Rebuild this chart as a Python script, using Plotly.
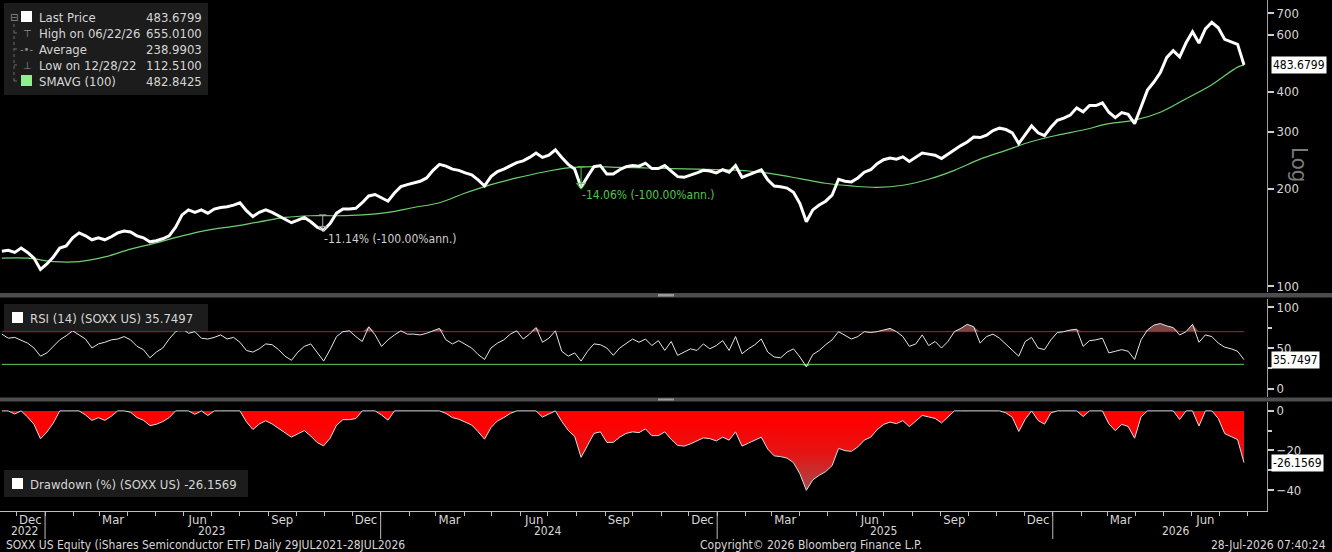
import numpy as np
import pandas as pd
import plotly.graph_objects as go

# weekly closes (last point is the 28-Jul-2026 print)
dates = pd.date_range(end="2026-07-28", periods=194, freq="7D")

price = [
    128, 129, 127, 131, 127, 122, 112.5, 117, 123, 131,
    133, 141, 146, 143, 139, 141, 139, 142, 146, 148,
    147, 143, 141, 137, 138, 140, 143, 152, 166, 172,
    169, 172, 168, 173, 175, 176, 178, 181, 171, 164,
    169, 172, 169, 165, 161, 157, 160, 163, 158, 152,
    149, 156, 168, 173, 173, 174, 181, 190, 192, 188,
    183, 194, 203, 206, 209, 211, 216, 228, 238, 235,
    230, 228, 224, 221, 213, 204, 218, 226, 230, 235,
    241, 244, 250, 258, 250, 254, 264, 250, 238, 230,
    202, 218, 234, 236, 222, 222, 229, 234, 236, 235,
    240, 231, 231, 236, 226, 218, 217, 220, 224, 228,
    227, 224, 229, 225, 236, 217, 221, 225, 229, 213,
    204, 203, 201, 195, 180, 158, 172, 178, 183, 191,
    214, 211, 210, 216, 225, 229, 239, 246, 249, 247,
    251, 243, 250, 258, 256, 254, 248, 256, 264, 272,
    279, 289, 288, 293, 303, 308, 305, 298, 276, 295,
    313, 298, 292, 310, 326, 331, 338, 356, 346, 362,
    362, 369, 345, 332, 344, 340, 318, 358, 404, 428,
    458, 510, 535, 512, 566, 612, 565, 625, 655.01, 630,
    580, 570, 560, 483.6799,
]

rsi_14 = [
    67, 62, 63, 59, 56, 50, 40, 44, 52, 60,
    65, 71, 66, 61, 50, 55, 57, 60, 61, 64,
    60, 52, 48, 38, 45, 50, 61, 70, 74, 68,
    70, 62, 61, 63, 66, 61, 63, 57, 47, 45,
    49, 55, 54, 48, 40, 35, 45, 52, 55, 45,
    34, 48, 64, 70, 71, 64, 58, 76, 66, 52,
    60, 66, 71, 67, 67, 66, 68, 71, 74, 60,
    55, 59, 55, 50, 42, 36, 50, 56, 60, 67,
    71, 61, 67, 75, 57, 62, 71, 46, 40, 44,
    34, 46, 55, 54, 50, 41, 50, 55, 61, 57,
    61, 53, 59, 47, 58, 41, 45, 49, 47, 55,
    49, 53, 59, 47, 64, 43, 49, 54, 61, 45,
    39, 38, 45, 49, 39, 27, 42, 47, 54, 60,
    70, 65, 61, 64, 70, 69, 70, 72, 74, 70,
    64, 52, 55, 66, 53, 58, 50, 58, 70, 74,
    79, 76, 56, 64, 67, 62, 55, 48, 40, 58,
    63, 50, 48, 60, 69, 70, 72, 73, 52, 59,
    60, 62, 44, 46, 48, 46, 36, 60, 72, 78,
    80, 77, 75, 66, 70, 79, 57, 66, 64, 56,
    51, 49, 46, 35.7497,
]

# 100-day SMA, read every 4 weeks
sma_dates = list(dates[::4]) + [dates[-1]]
sma_100 = [
    122, 122, 119, 119, 123, 130, 136, 143, 149, 153,
    158, 163, 165, 165, 166, 169, 175, 181, 194, 206,
    216, 225, 232, 234, 233, 232, 231, 230, 229, 227,
    222, 215, 208, 204, 202, 205, 214, 228, 247, 263,
    280, 293, 304, 318, 326, 345, 380, 420, 476, 482.8425,
]

# month labels sit mid-month (Dec/Mar/Jun/Sep), years centred under their span
month_ticks = pd.date_range("2022-12-01", "2026-06-01", freq="3MS") + pd.Timedelta(days=15)
month_names = [d.strftime("%b") for d in month_ticks]
year_labels = ["2022", "2023", "2024", "2025", "2026"]
year_pos = ["2022-12-10", "2023-07-01", "2024-07-01", "2025-07-01", "2026-05-15"]

# derived series
p = np.array(price)
drawdown = (p / np.maximum.accumulate(p) - 1) * 100
r = np.array(rsi_14)

FONT = "Liberation Sans Narrow, DejaVu Sans Condensed, Arial Narrow, sans-serif"
TXT = "#d6d6d6"
W, H = 1332, 552
PLOT_R, PLOT_B = 1267, 511


def px(x):
    return x / PLOT_R


def py(y):
    return (PLOT_B - y) / PLOT_B


fig = go.Figure()

# price panel
fig.add_trace(go.Scatter(x=sma_dates, y=sma_100, mode="lines", line=dict(color="#6fcf6f", width=1.2, shape="spline"),
                         yaxis="y"))
fig.add_trace(go.Scatter(x=dates, y=price, mode="lines", line=dict(color="white", width=3), yaxis="y"))

# drawdown markers on price
fig.add_trace(go.Scatter(x=["2023-10-26", "2023-11-03", None, "2023-10-30", "2023-10-30"],
                         y=[166, 166, None, 166, 150], mode="lines",
                         line=dict(color="#a8a8a8", width=1), yaxis="y"))
fig.add_trace(go.Scatter(x=["2023-10-30"], y=[151], mode="markers",
                         marker=dict(symbol="triangle-down-open", size=7, color="#a8a8a8"), yaxis="y"))
fig.add_trace(go.Scatter(x=["2024-08-02", "2024-08-10", None, "2024-08-06", "2024-08-06"],
                         y=[234, 234, None, 234, 203], mode="lines",
                         line=dict(color="#4cc94c", width=1), yaxis="y"))
fig.add_trace(go.Scatter(x=["2024-08-06"], y=[205], mode="markers",
                         marker=dict(symbol="triangle-down-open", size=8, color="#4cc94c"), yaxis="y"))

# RSI panel
fig.add_trace(go.Scatter(x=dates, y=[70] * len(dates), mode="lines", line=dict(color="#c41a1a", width=1), yaxis="y2"))
fig.add_trace(go.Scatter(x=dates, y=np.maximum(r, 70), mode="lines", line=dict(width=0),
                         fill="tonexty", fillcolor="#7d4646", yaxis="y2"))
fig.add_trace(go.Scatter(x=dates, y=[30] * len(dates), mode="lines", line=dict(color="#5ccf5c", width=1), yaxis="y2"))
fig.add_trace(go.Scatter(x=dates, y=np.minimum(r, 30), mode="lines", line=dict(width=0),
                         fill="tonexty", fillcolor="#3f7a3f", yaxis="y2"))
fig.add_trace(go.Scatter(x=dates, y=rsi_14, mode="lines", line=dict(color="#e6e6e6", width=1), yaxis="y2"))

# drawdown panel
fig.add_trace(go.Scatter(x=dates, y=drawdown, mode="lines", line=dict(color="#dcdcdc", width=1),
                         fill="tozeroy",
                         fillgradient=dict(type="vertical", start=-42, stop=-5,
                                           colorscale=[[0, "#a05050"], [0.55, "#e41414"], [1, "#ff0000"]]),
                         yaxis="y3"))

axis_common = dict(side="right", anchor="x", showgrid=False, zeroline=False, showline=True,
                   linecolor="#a0a0a0", linewidth=1, ticks="outside", ticklen=6, tickwidth=2,
                   tickcolor="#cfcfcf", tickfont=dict(family=FONT, size=13, color=TXT))

fig.update_layout(
    width=W, height=H,
    margin=dict(l=0, r=W - PLOT_R, t=0, b=H - PLOT_B),
    paper_bgcolor="black", plot_bgcolor="black",
    showlegend=False,
    xaxis=dict(type="date", range=["2022-11-13", "2026-08-22"], anchor="y3", showgrid=False,
               zeroline=False, showline=True, linecolor="#bdbdbd", linewidth=1,
               tickvals=month_ticks, ticktext=month_names, ticks="", ticklen=0, ticklabelstandoff=-4,
               tickfont=dict(family=FONT, size=13, color=TXT),
               minor=dict(ticks="outside", ticklen=4, tickcolor="#bdbdbd", dtick="M1", tick0="2022-12-01")),
    yaxis=dict(domain=[py(292), 1], type="log", range=[np.log10(95.8), np.log10(768)],
               tickvals=[100, 200, 300, 400, 600, 700], ticktext=["100", "200", "300", "400", "600", "700"],
               **axis_common),
    yaxis2=dict(domain=[py(397), py(299)], range=[-10, 110], tickvals=[0, 50, 100],
                minor=dict(tickvals=[25, 75], ticks="outside", ticklen=4, tickcolor="#cfcfcf"),
                **axis_common),
    yaxis3=dict(domain=[0, py(402)], range=[-50.6, 4.5], tickvals=[0, -20, -40],
                minor=dict(tickvals=[-10, -30], ticks="outside", ticklen=4, tickcolor="#cfcfcf"),
                **axis_common),
)

shapes = []
# panel separators
for y0, y1 in [(293, 297.5), (397.5, 401.5)]:
    shapes.append(dict(type="rect", xref="paper", yref="paper", x0=0, x1=W / PLOT_R, y0=py(y1), y1=py(y0),
                       fillcolor="#4d4d4d", line=dict(width=0), layer="above"))
    shapes.append(dict(type="rect", xref="paper", yref="paper", x0=px(658), x1=px(674),
                       y0=py(y1 - 1), y1=py(y0 + 1), fillcolor="#9a9a9a", line=dict(width=0), layer="above"))
# legend boxes
for x0, x1, y0, y1 in [(4, 208, 3, 95), (4, 208, 304, 331), (4, 248, 470, 497)]:
    shapes.append(dict(type="rect", xref="paper", yref="paper", x0=px(x0), x1=px(x1), y0=py(y1), y1=py(y0),
                       fillcolor="#1c1c1c", line=dict(width=0), layer="above"))
# legend swatches
for x0, y0, c in [(21, 11, "white"), (21, 75, "#8ff08f"), (12, 312, "white"), (12, 478, "white")]:
    shapes.append(dict(type="rect", xref="paper", yref="paper", x0=px(x0), x1=px(x0 + 11), y0=py(y0 + 11),
                       y1=py(y0), fillcolor=c, line=dict(width=0), layer="above"))
# tree lines in the top legend
shapes.append(dict(type="line", xref="paper", yref="paper", x0=px(14), x1=px(14), y0=py(81), y1=py(23),
                   line=dict(color="#6a6a6a", width=1, dash="dot"), layer="above"))
for yy in [33, 49, 65, 81]:
    shapes.append(dict(type="line", xref="paper", yref="paper", x0=px(14), x1=px(20), y0=py(yy), y1=py(yy),
                       line=dict(color="#6a6a6a", width=1, dash="dot"), layer="above"))
# year separators under the axis
for yr in ["2023-01-01", "2024-01-01", "2025-01-01", "2026-01-01"]:
    shapes.append(dict(type="line", xref="x", yref="paper", x0=yr, x1=yr, y0=py(539), y1=py(511),
                       line=dict(color="#bdbdbd", width=1)))
fig.update_layout(shapes=shapes)

ann = []
leg_rows = [("Last Price", "483.6799"), ("High on 06/22/26", "655.0100"), ("Average", "238.9903"),
            ("Low on 12/28/22", "112.5100"), ("SMAVG (100)", "482.8425")]
for i, (lab, val) in enumerate(leg_rows):
    yy = 17 + 16 * i
    ann.append(dict(xref="paper", yref="paper", x=px(37), y=py(yy), text=lab, xanchor="left", yanchor="middle",
                    showarrow=False, font=dict(family=FONT, size=13, color=TXT)))
    ann.append(dict(xref="paper", yref="paper", x=px(204), y=py(yy), text=val, xanchor="right",
                    yanchor="middle", showarrow=False, font=dict(family=FONT, size=13, color=TXT)))
for sym, xx, yy in [("⊟", 14, 17), ("⊤", 27, 33), ("-•-", 27, 49), ("⊥", 27, 65)]:
    ann.append(dict(xref="paper", yref="paper", x=px(xx), y=py(yy), text=sym, xanchor="center",
                    yanchor="middle", showarrow=False, font=dict(family="DejaVu Sans", size=10, color="#8a8a8a")))

ann.append(dict(xref="paper", yref="paper", x=px(28), y=py(318), text="RSI (14) (SOXX US) 35.7497",
                xanchor="left", yanchor="middle", showarrow=False, font=dict(family=FONT, size=13, color=TXT)))
ann.append(dict(xref="paper", yref="paper", x=px(28), y=py(484), text="Drawdown (%) (SOXX US) -26.1569",
                xanchor="left", yanchor="middle", showarrow=False, font=dict(family=FONT, size=13, color=TXT)))

ann.append(dict(xref="x", yref="y", x="2023-10-29", y=np.log10(139.8), text="-11.14% (-100.00%ann.)",
                xanchor="left", yanchor="middle", showarrow=False, font=dict(family=FONT, size=12, color="#cfcfcf")))
ann.append(dict(xref="x", yref="y", x="2024-08-05", y=np.log10(191), text="-14.06% (-100.00%ann.)",
                xanchor="left", yanchor="middle", showarrow=False, font=dict(family=FONT, size=12, color="#4cc94c")))

# last-value tags on the right axis
for yref, yv, txt in [("y", np.log10(483.6799), "483.6799"), ("y2", 35.7497, "35.7497"),
                      ("y3", -26.1569, "-26.1569")]:
    ann.append(dict(xref="paper", yref=yref, x=1, y=yv, text=txt, xanchor="left", yanchor="middle",
                    xshift=4, showarrow=False, bgcolor="white", borderpad=1,
                    font=dict(family=FONT, size=12, color="black")))

ann.append(dict(xref="paper", yref="paper", x=px(1314), y=py(145), text="Log", textangle=90,
                showarrow=False, font=dict(family=FONT, size=22, color="#7a7a7a")))

for yr, xpos in zip(year_labels, year_pos):
    ann.append(dict(xref="x", yref="paper", x=xpos, y=py(531), text=yr, showarrow=False,
                    xanchor="center", yanchor="middle", font=dict(family=FONT, size=12, color=TXT)))

ann.append(dict(xref="paper", yref="paper", x=px(4), y=py(545),
                text="SOXX US Equity (iShares Semiconductor ETF) Daily 29JUL2021-28JUL2026",
                xanchor="left", yanchor="middle", showarrow=False, font=dict(family=FONT, size=12, color=TXT)))
ann.append(dict(xref="paper", yref="paper", x=px(698), y=py(545), text="Copyright© 2026 Bloomberg Finance L.P.",
                xanchor="left", yanchor="middle", showarrow=False, font=dict(family=FONT, size=12, color=TXT)))
ann.append(dict(xref="paper", yref="paper", x=px(1328), y=py(545), text="28-Jul-2026 07:40:24",
                xanchor="right", yanchor="middle", showarrow=False, font=dict(family=FONT, size=12, color=TXT)))

fig.update_layout(annotations=ann)

# the page's default 8px body margin would push the figure off the window
fig.write_html("out.html", config={"displayModeBar": False},
               post_script="document.body.style.margin='0px';")
